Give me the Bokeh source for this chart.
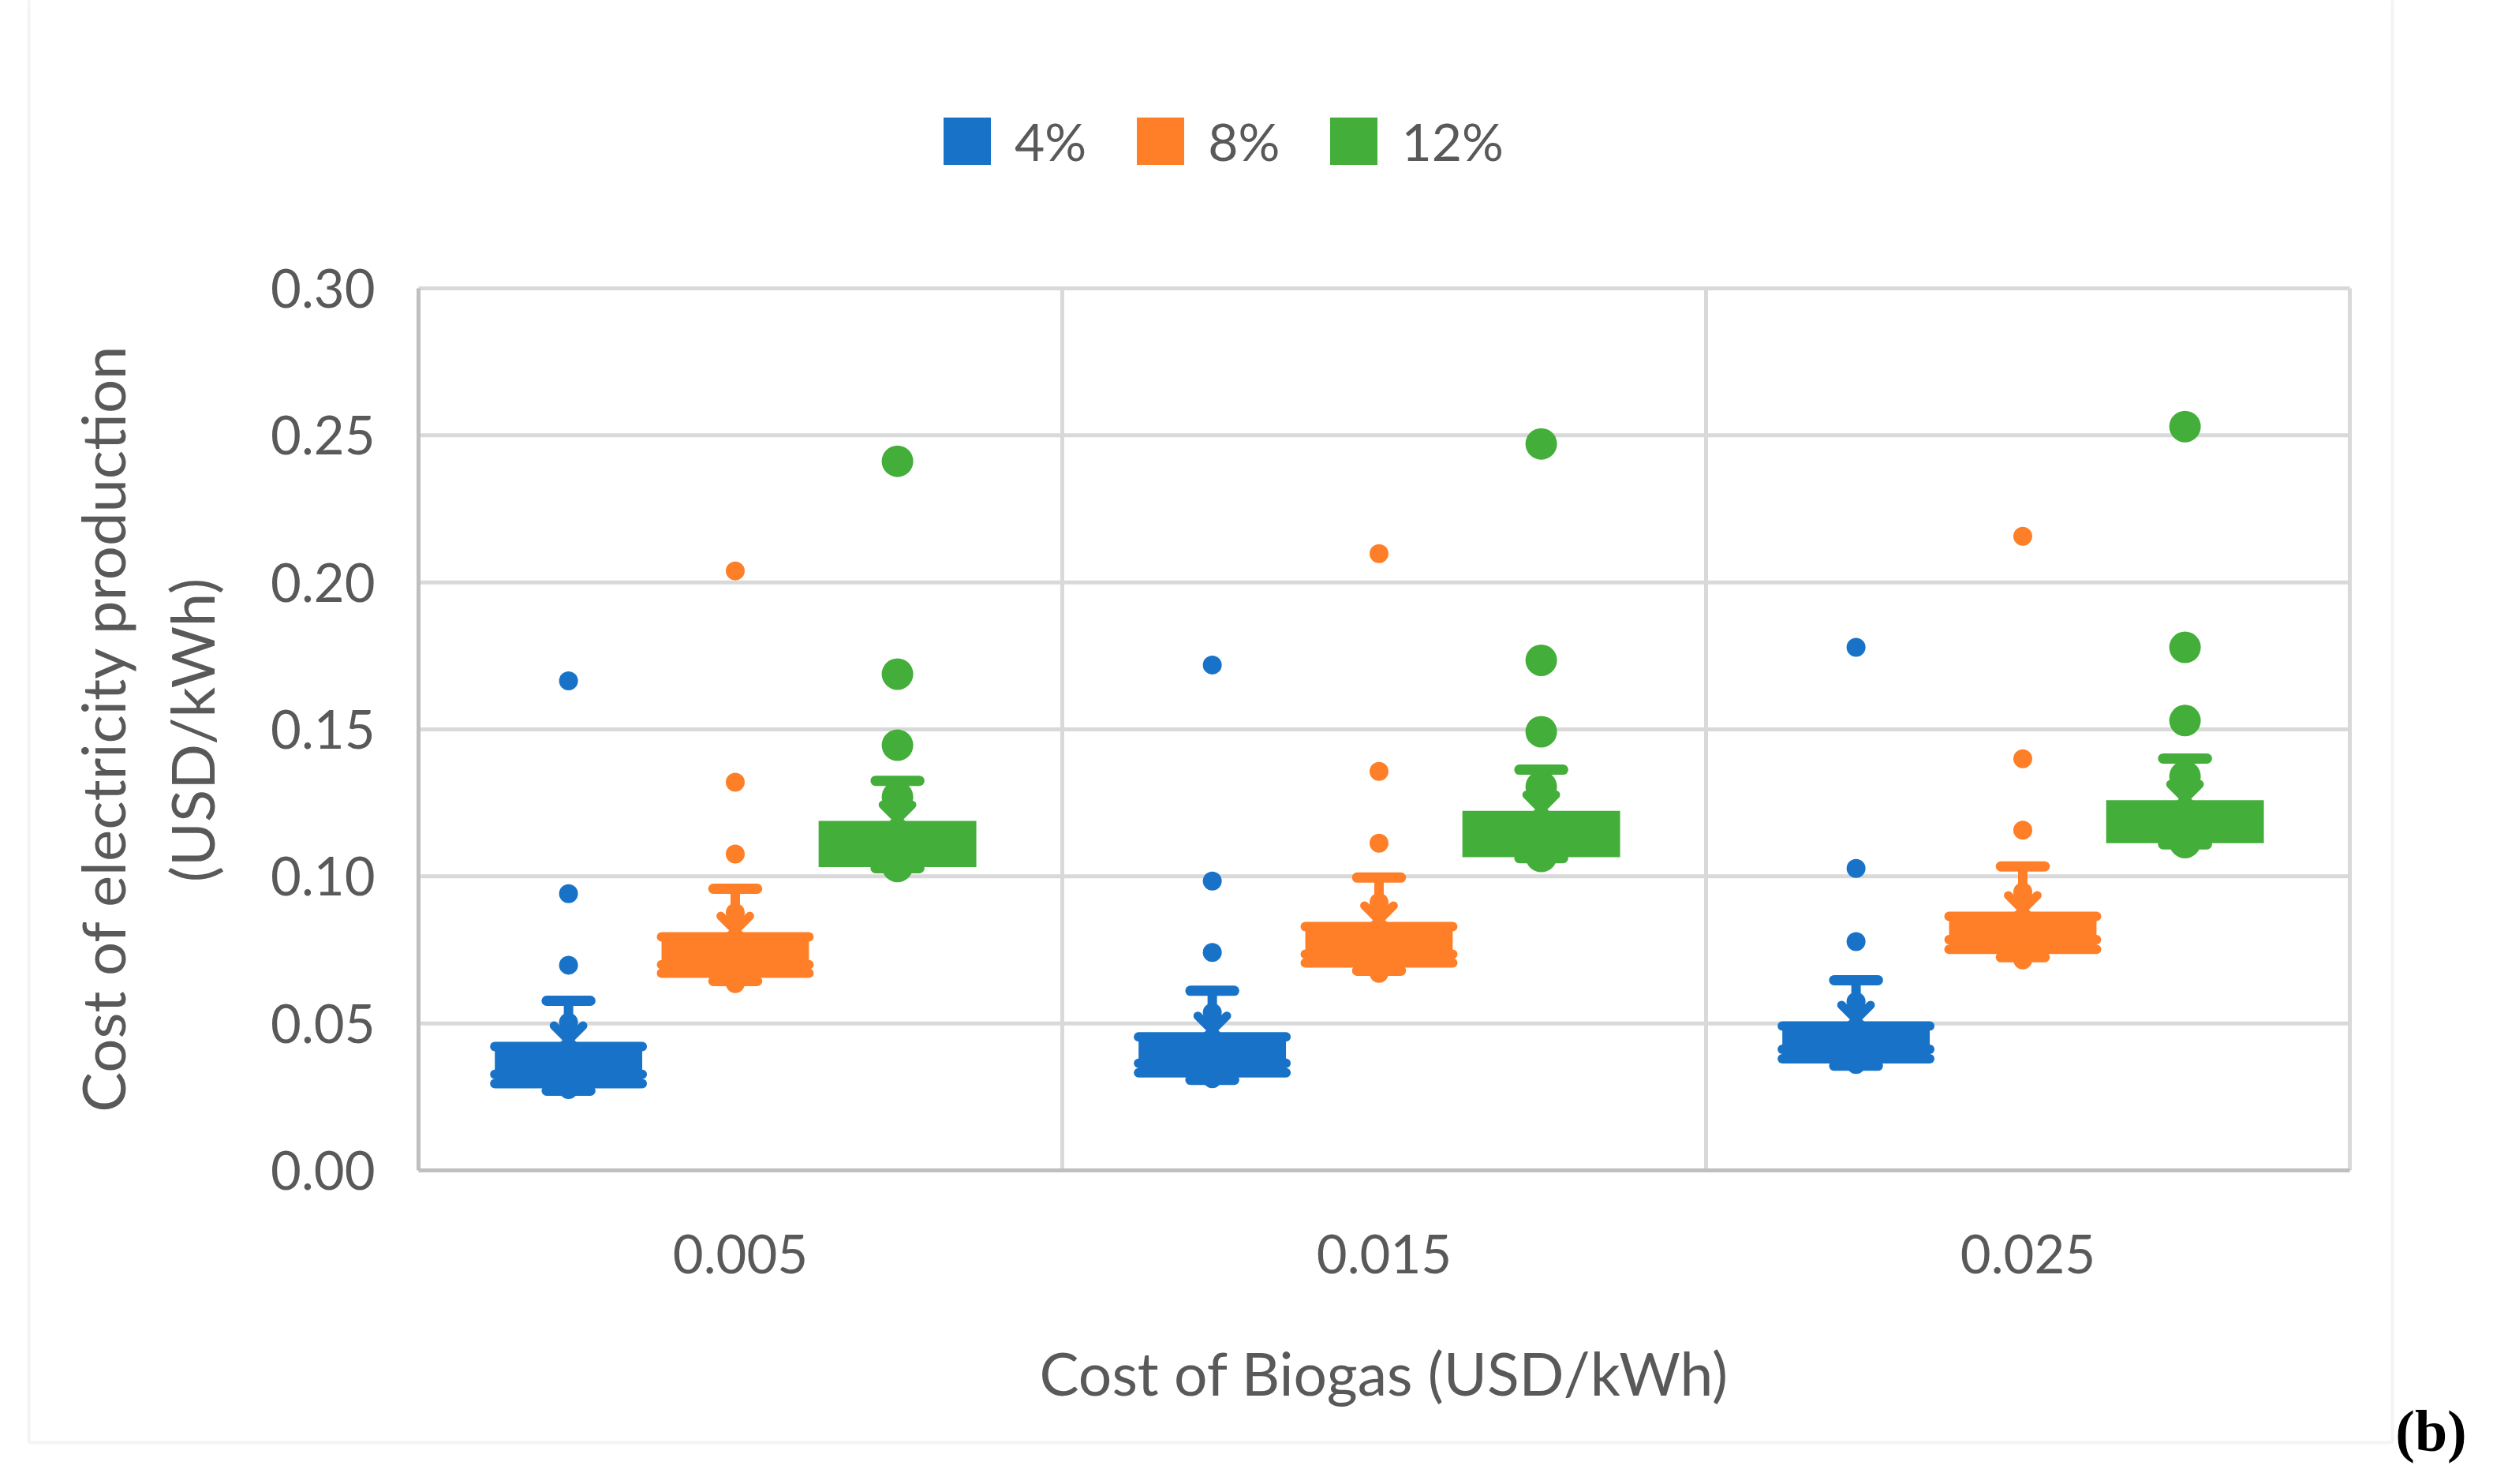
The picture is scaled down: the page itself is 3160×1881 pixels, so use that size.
import math
from bokeh.plotting import figure
from bokeh.models import (Range1d, Label, Legend, LegendItem, BoxAnnotation,
                          ColumnDataSource)
from bokeh.embed import file_html
from bokeh.resources import INLINE

categories = ["0.005", "0.015", "0.025"]
series = ["4%", "8%", "12%"]
colors = ["#1873c8", "#fe7f27", "#44ae3b"]
y_ticks = [0.0, 0.05, 0.10, 0.15, 0.20, 0.25, 0.30]
y_tick_labels = ["0.00", "0.05", "0.10", "0.15", "0.20", "0.25", "0.30"]

# box statistics, one list per series (values for the three categories)
q1_4 = [0.0295, 0.0332, 0.0380]
med_4 = [0.0327, 0.0364, 0.0412]
q3_4 = [0.0421, 0.0454, 0.0491]
lo_4 = [0.0271, 0.0308, 0.0356]
hi_4 = [0.0577, 0.0611, 0.0647]
mean_4 = [0.0443, 0.0476, 0.0513]
pts_4 = [[0.0275, 0.0504, 0.0698, 0.0941, 0.1665],
         [0.0312, 0.0537, 0.0741, 0.0984, 0.1719],
         [0.0360, 0.0574, 0.0778, 0.1027, 0.1779]]

q1_8 = [0.0671, 0.0706, 0.0752]
med_8 = [0.0700, 0.0735, 0.0785]
q3_8 = [0.0794, 0.0829, 0.0864]
lo_8 = [0.0644, 0.0679, 0.0725]
hi_8 = [0.0958, 0.0996, 0.1034]
mean_8 = [0.0816, 0.0851, 0.0886]
pts_8 = [[0.0635, 0.0877, 0.1076, 0.1320, 0.2039],
         [0.0670, 0.0912, 0.1113, 0.1357, 0.2098],
         [0.0716, 0.0947, 0.1157, 0.1400, 0.2157]]

q1_12 = [0.1032, 0.1065, 0.1113]
med_12 = [0.1065, 0.1100, 0.1146]
q3_12 = [0.1189, 0.1223, 0.1259]
lo_12 = [0.1028, 0.1062, 0.1109]
hi_12 = [0.1325, 0.1363, 0.1401]
mean_12 = [0.1194, 0.1228, 0.1264]
pts_12 = [[0.1034, 0.1270, 0.1446, 0.1688, 0.2412],
          [0.1068, 0.1305, 0.1492, 0.1735, 0.2471],
          [0.1115, 0.1340, 0.1530, 0.1779, 0.2530]]

stats = {
    "4%": (q1_4, med_4, q3_4, lo_4, hi_4, mean_4, pts_4),
    "8%": (q1_8, med_8, q3_8, lo_8, hi_8, mean_8, pts_8),
    "12%": (q1_12, med_12, q3_12, lo_12, hi_12, mean_12, pts_12),
}

TEXT = "#595959"
FONT = "Lato"
W, H = 3140, 1860
# plot area in canvas pixels
PL, PR, PT, PB = 530, 2978, 365, 1483
NCAT = len(categories)
YMAX = y_ticks[-1]
XS = (PR - PL) / NCAT
YS = (PB - PT) / YMAX


def X(px):
    return (px - PL) / XS


def Y(py):
    return (PB - py) / YS


p = figure(width=W, height=H, x_range=Range1d(X(0), X(W)), y_range=Range1d(Y(H), Y(0)),
           output_backend="svg", toolbar_location=None,
           x_axis_location=None, y_axis_location=None,
           min_border=0, min_border_left=0, min_border_right=0,
           min_border_top=0, min_border_bottom=0)
p.outline_line_color = None
p.background_fill_color = "white"
p.border_fill_color = "white"
try:
    p.xgrid.visible = False
    p.ygrid.visible = False
except Exception:
    pass

# grid lines
p.segment(x0=[0] * (len(y_ticks) - 1), x1=[NCAT] * (len(y_ticks) - 1),
          y0=y_ticks[1:], y1=y_ticks[1:], line_color="#d9d9d9", line_width=5)
p.segment(x0=list(range(1, NCAT + 1)), x1=list(range(1, NCAT + 1)),
          y0=[0] * NCAT, y1=[YMAX] * NCAT, line_color="#d9d9d9", line_width=5)
# axis lines
p.segment(x0=[0, 0], y0=[0, 0], x1=[0, NCAT], y1=[YMAX, 0],
          line_color="#bfbfbf", line_width=5)

# tick labels
p.text(x=[X(475)] * len(y_ticks), y=y_ticks, text=y_tick_labels,
       text_align="right", text_baseline="middle", text_font={"value": FONT},
       text_font_size="67px", text_color=TEXT)
p.text(x=[i + 0.5 for i in range(NCAT)], y=[Y(1589)] * NCAT, text=categories,
       text_align="center", text_baseline="middle", text_font={"value": FONT},
       text_font_size="67px", text_color=TEXT)

offsets = [-0.267, -0.008, 0.244]
box_w = [0.229, 0.229, 0.245]
cap_half = 0.034
legend_items = []

for si, s in enumerate(series):
    c = colors[si]
    q1, med, q3, lo, hi, mean, pts = stats[s]
    xs = [i + 0.5 + offsets[si] for i in range(NCAT)]
    src = ColumnDataSource(dict(
        x=xs, xl=[x - cap_half for x in xs], xr=[x + cap_half for x in xs],
        bl=[x - box_w[si] / 2 for x in xs], br=[x + box_w[si] / 2 for x in xs],
        q1=q1, med=med, q3=q3, lo=lo, hi=hi, mean=mean))
    # whisker stem and caps
    p.segment(x0="x", y0="lo", x1="x", y1="hi", line_width=12, line_color=c, source=src)
    p.segment(x0="xl", y0="hi", x1="xr", y1="hi", line_width=13, line_color=c,
              line_cap="round", source=src)
    p.segment(x0="xl", y0="lo", x1="xr", y1="lo", line_width=13, line_color=c,
              line_cap="round", source=src)
    # mean marker
    p.scatter(x="x", y="mean", marker="x", size=52, line_width=11, line_color=c,
              line_cap="round", source=src)
    # box
    r = p.vbar(x="x", width=box_w[si], bottom="q1", top="q3", fill_color=c,
               line_color=None, source=src)
    legend_items.append(LegendItem(label=s, renderers=[r]))
    if si < 2:
        for col in ("q1", "med", "q3"):
            p.segment(x0="bl", y0=col, x1="br", y1=col, line_width=12, line_color=c,
                      line_cap="round", source=src)
    # individual points
    px, py = [], []
    for i, plist in enumerate(pts):
        for v in plist:
            px.append(xs[i])
            py.append(v)
    p.scatter(x=px, y=py, marker="circle", size=(24 if si < 2 else 40),
              fill_color=c, line_color=None)

legend = Legend(items=legend_items, orientation="horizontal", location=(1188, H - 218),
                glyph_width=75, glyph_height=75, label_height=60,
                label_standoff=23, spacing=56,
                padding=0, margin=0, border_line_alpha=0, background_fill_alpha=0,
                label_text_font=FONT, label_text_font_size="66px",
                label_text_color=TEXT, label_text_baseline="middle")
p.add_layout(legend)

# axis titles
p.add_layout(Label(x=X(129), y=Y(922), text="Cost of electricity production",
                   angle=math.pi / 2, text_align="center", text_baseline="middle",
                   text_font=FONT, text_font_size="76px", text_color=TEXT))
p.add_layout(Label(x=X(242), y=Y(925), text="(USD/kWh)", angle=math.pi / 2,
                   text_align="center", text_baseline="middle", text_font=FONT,
                   text_font_size="76px", text_color=TEXT))
p.add_layout(Label(x=X(1754), y=Y(1739), text="Cost of Biogas (USD/kWh)",
                   text_align="center", text_baseline="middle", text_font=FONT,
                   text_font_size="75px", text_color=TEXT))
p.add_layout(Label(x=X(3081), y=Y(1813), text="(b)", text_align="center",
                   text_baseline="middle", text_font="Liberation Serif",
                   text_font_style="bold", text_font_size="74px", text_color="black"))

# chart border
p.add_layout(BoxAnnotation(left=X(36), right=X(3032), top=Y(-10), bottom=Y(1828),
                           fill_alpha=0, line_color="#d9d9d9", line_width=4,
                           level="underlay"))

open("out.html", "w").write(file_html(p, INLINE))
